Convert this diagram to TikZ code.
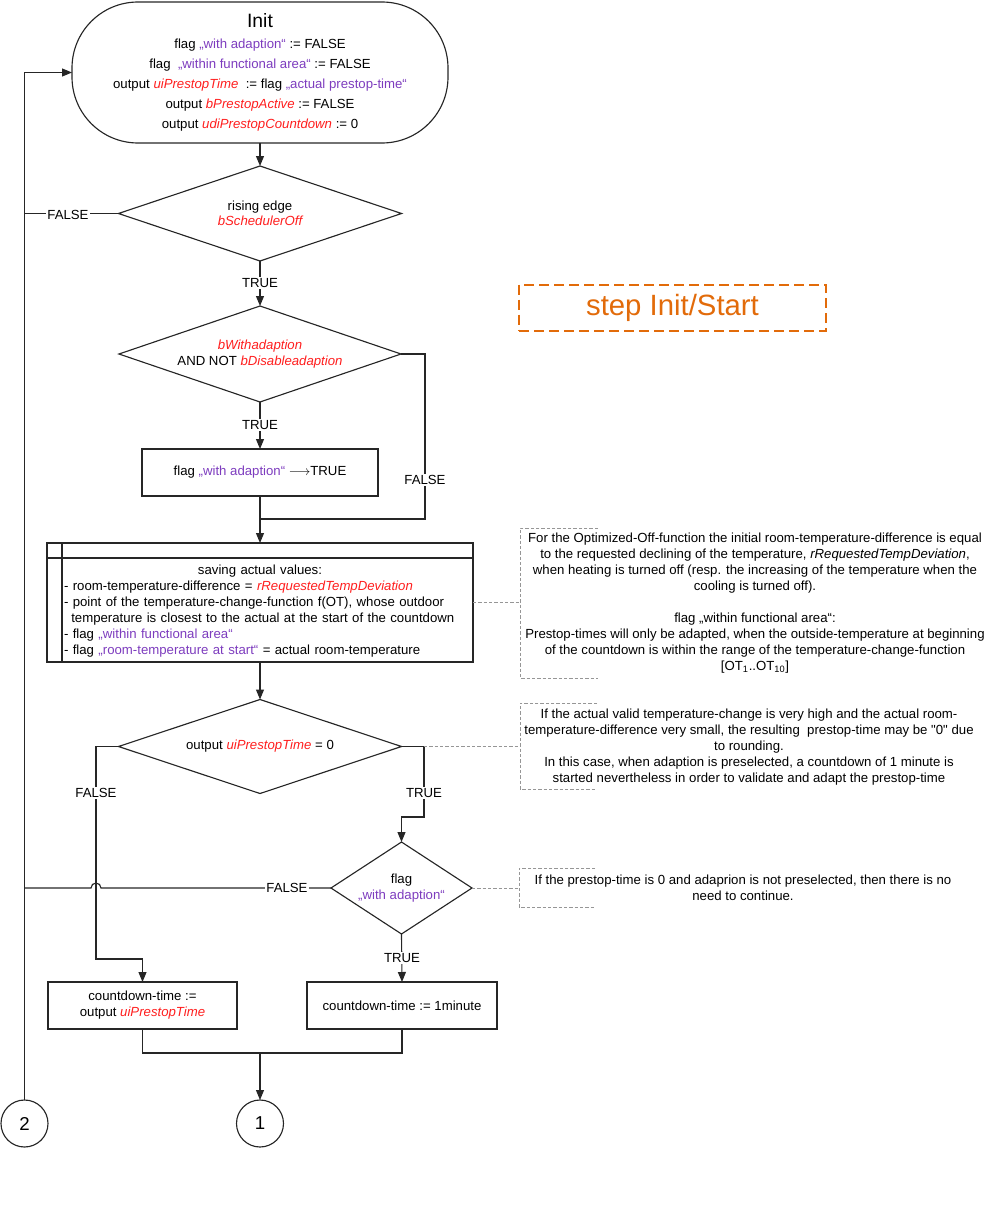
\documentclass[tikz,border=0pt]{standalone}
\usepackage{fontspec}
\setmainfont{Liberation Sans}
\newfontfamily\rawq{Liberation Sans}[Ligatures=TeXOff]
\usetikzlibrary{shapes.geometric,arrows.meta}
\definecolor{vred}{RGB}{255,30,30}
\definecolor{vpur}{RGB}{125,60,190}
\definecolor{orng}{RGB}{226,107,10}
\definecolor{notegray}{RGB}{150,150,150}
\newcommand\myvar[1]{\textcolor{vred}{\itshape #1}}
\newcommand\myflag[1]{\textcolor{vpur}{„#1“}}
\def\pxu{0.75pt}
\begin{document}
\begin{tikzpicture}[x=0.75pt,y=-0.75pt,
  font=\fontsize{9.9}{12}\selectfont,
  line/.style={draw=black!85, line width=0.85pt},
  arr/.style={line, -{Triangle[length=7.5pt,width=6pt]}},
  shp/.style={draw=black!85, line width=0.85pt, outer sep=0pt, inner sep=0pt},
  dia/.style={shp, diamond},
  boxn/.style={shp, rectangle, align=center},
  txt/.style={inner sep=0pt, align=center},
  lbl/.style={fill=white, inner sep=1.2pt},
  note/.style={draw=notegray, line width=0.7pt, dash pattern=on 2.5pt off 1.5pt},
  conn/.style={circle, shp, minimum size=47*\pxu, font=\fontsize{14}{16}\selectfont}
]
\useasboundingbox (0,0) rectangle (998,1210);

% Init
\node[shp, rectangle, rounded corners=66*\pxu, minimum width=376*\pxu, minimum height=141*\pxu] (init) at (260,72.5) {};
\node[txt, font=\fontsize{14.5}{17}\selectfont] (initT) at (260,21) {Init};
\node[txt, font=\fontsize{9.9}{15}\selectfont] (initL) at (260,85) {%
flag \myflag{with adaption} := FALSE\\
flag \ \myflag{within functional area} := FALSE\\
output \myvar{uiPrestopTime} \ := flag \myflag{actual prestop-time}\\
output \myvar{bPrestopActive} := FALSE\\
output \myvar{udiPrestopCountdown} := 0};

% Diamond 1
\node[dia, minimum width=283*\pxu, minimum height=95*\pxu] (d1) at (260,213.5) {};
\node[txt, font=\fontsize{9.9}{11.5}\selectfont] (d1t) at (260,213.5) {rising edge\\ \myvar{bSchedulerOff}};

% step label
\node[draw=orng, line width=1.5pt, dash pattern=on 7.5pt off 3.75pt, minimum width=307*\pxu, minimum height=46*\pxu, text=orng, font=\fontsize{22}{26}\selectfont, inner sep=0pt] (step) at (672.5,307.5) {step Init/Start};

% Diamond 2
\node[dia, minimum width=282*\pxu, minimum height=96*\pxu] (d2) at (260,354) {};
\node[txt, font=\fontsize{9.9}{11.5}\selectfont] (d2t) at (260,354) {\myvar{bWithadaption}\\ AND NOT \myvar{bDisableadaption}};

% Box 1
\node[boxn, minimum width=236*\pxu, minimum height=47*\pxu] (b1) at (260,472.5) {flag \myflag{with adaption} $\longrightarrow$TRUE};

% Save box
\node[shp, rectangle, minimum width=426*\pxu, minimum height=119*\pxu] (save) at (260,602.5) {};
\draw[line] ([xshift=15*\pxu]save.north west) -- ([xshift=15*\pxu]save.south west);
\draw[line] ([yshift=-15*\pxu]save.north west) -- ([yshift=-15*\pxu]save.north east);
\node[inner sep=0pt, text width=404*\pxu, align=left, font=\fontsize{9.9}{12}\selectfont] (savet) at (266,611) {%
\makebox[\linewidth][c]{saving actual values:\hspace*{9pt}}\\
- room-temperature-difference = \myvar{rRequestedTempDeviation}\\
- point of the temperature-change-function f(OT), whose outdoor\\
\hspace*{0.55em}temperature is closest to the actual at the start of the countdown\\
- flag \myflag{within functional area}\\
- flag \myflag{room-temperature at start} = actual room-temperature};

% Diamond 3
\node[dia, minimum width=283*\pxu, minimum height=94*\pxu] (d3) at (260,746.5) {};
\node[txt] (d3t) at (260,746.5) {output \myvar{uiPrestopTime} = 0};

% Flag diamond
\node[dia, minimum width=141*\pxu, minimum height=92*\pxu] (d4) at (401.5,888) {};
\node[txt, font=\fontsize{9.9}{11.5}\selectfont] (d4t) at (401.5,888) {flag\\ \myflag{with adaption}};

% Bottom boxes
\node[boxn, minimum width=189*\pxu, minimum height=47*\pxu] (bl) at (142.5,1005.5) {countdown-time :=\\ output \myvar{uiPrestopTime}};
\node[boxn, minimum width=190*\pxu, minimum height=47*\pxu] (br) at (402,1005.5) {countdown-time := 1minute};

% Connectors
\node[conn] (c2) at (24.5,1123.5) {2};
\node[conn] (c1) at (260,1123.5) {1};

% Notes
\node[txt] (n1) at (755,603) {For the Optimized-Off-function the initial room-temperature-difference is equal\\
to the requested declining of the temperature, \textit{rRequestedTempDeviation},\\
when heating is turned off (resp. the increasing of the temperature when the\\
cooling is turned off).\\[12pt]
flag „within functional area“:\\
Prestop-times will only be adapted, when the outside-temperature at beginning\\
of the countdown is within the range of the temperature-change-function\\
\mbox{[}OT\textsubscript{1}..OT\textsubscript{10}]};
\node[txt] (n2) at (749,747) {If the actual valid temperature-change is very high and the actual room-\\
temperature-difference very small, the resulting \ prestop-time may be {\rawq"0"} due\\
to rounding.\\
In this case, when adaption is preselected, a countdown of 1 minute is\\
started nevertheless in order to validate and adapt the prestop-time};
\node[txt] (n3) at (743,888) {If the prestop-time is 0 and adaprion is not preselected, then there is no\\
need to continue.};

\draw[note] (598,528) -- (520,528) -- (520,678) -- (598,678);
\draw[note] (597,703) -- (520,703) -- (520,789) -- (597,789);
\draw[note] (595,868) -- (519,868) -- (519,907) -- (595,907);
\coordinate (n1a) at (520,602.5);
\coordinate (n2a) at (520,746.5);
\coordinate (n3a) at (519,888);

% Flow
\draw[arr] (init.south) -- (d1.north);
\draw[arr] (d1.south) -- (d2.north);
\node[lbl] (t1) at (260,283) {TRUE};

\draw[arr] (c2.north) -- (24.5,72.5) -- (init.west);
\draw[line] (d1.west) -- (24.5,213.5);
\node[lbl] (f1) at (68,215) {FALSE};

\draw[arr] (d2.south) -- (b1.north);
\node[lbl] (t2) at (260,425) {TRUE};
\coordinate (j1) at (260,519);
\draw[line] (d2.east) -- (425,354) -- (425,519) -- (j1);
\node[lbl] (f2) at (425,480) {FALSE};
\draw[arr] (b1.south) -- (save.north);

\draw[arr] (save.south) -- (d3.north);

\draw[arr] (d3.west) -- (96,746.5) -- (96,959) -- (142.5,959) -- (bl.north);
\node[lbl] (f3) at (96,793) {FALSE};
\coordinate (k3) at (424,746.5);
\draw[arr] (d3.east) -- (k3) -- (424,817) -- (401.5,817) -- (d4.north);
\node[lbl] (t3) at (424,793) {TRUE};

\draw[line] (d4.west) -- (101,888) arc[start angle=0, end angle=180, radius=5*\pxu] -- (24.5,888);
\node[lbl] (f4) at (287,888) {FALSE};

\draw[arr] (d4.south) -- (br.north);
\node[lbl] (t4) at (402,958) {TRUE};

\coordinate (j2) at (260,1053);
\draw[line] (bl.south) -- (142.5,1053) -- (402,1053) -- (br.south);
\draw[arr] (j2) -- (c1.north);

% annotation links
\draw[note] (save.east) -- (n1a);
\draw[note] (k3) -- (n2a);
\draw[note] (d4.east) -- (n3a);
\end{tikzpicture}
\end{document}
